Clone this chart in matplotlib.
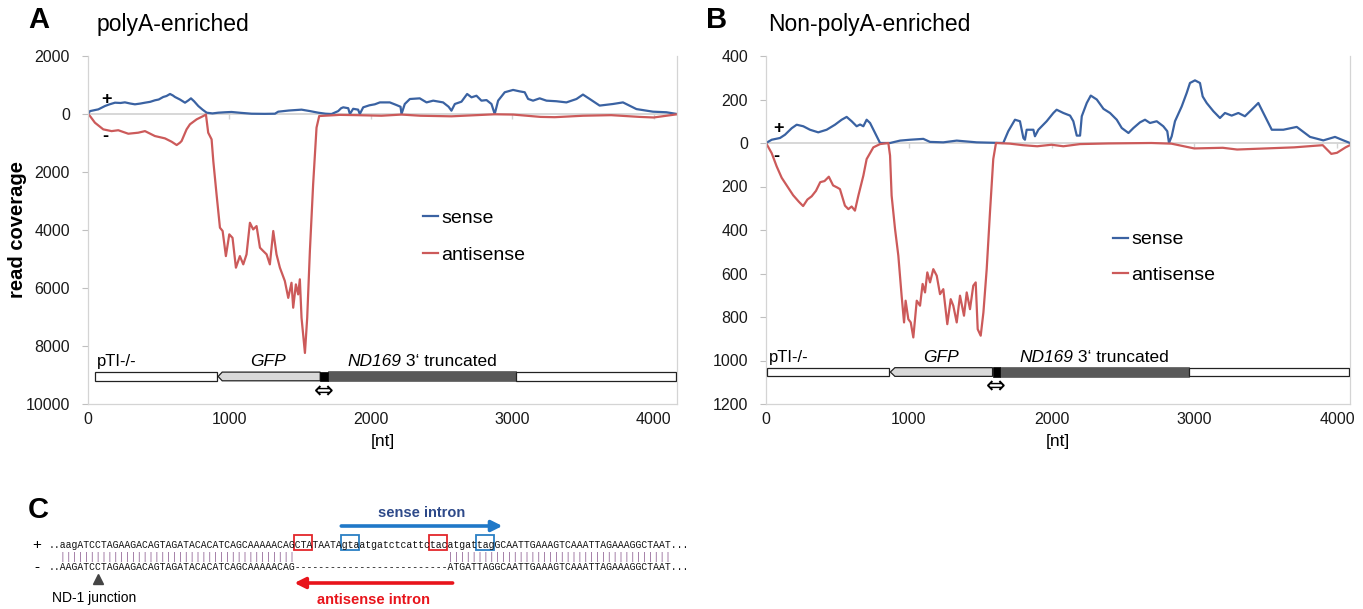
import matplotlib

matplotlib.use("Agg")
import matplotlib.pyplot as plt
from matplotlib.patches import Polygon, Rectangle

plt.rcParams["font.family"] = ["Liberation Sans", "DejaVu Sans"]

W, H = 1363, 609
BLUE = "#3a62a2"
RED = "#cc5a5a"
GRID = "#d4d4d4"

# ---------------- panel A: polyA-enriched (read coverage, nt) ----------------
a_sense_x = [0, 14, 73, 120, 150, 191, 230, 261, 300, 332, 370, 403, 440, 473, 500, 532, 555,
             580, 600, 615, 650, 686, 710, 728, 750, 780, 810, 839, 880, 921, 970, 1015, 1080,
             1157, 1250, 1322, 1345, 1420, 1510, 1570, 1628, 1680, 1722, 1769, 1790, 1805, 1840,
             1852, 1875, 1910, 1922, 1946, 1990, 2028, 2064, 2134, 2181, 2210, 2217, 2240, 2276,
             2346, 2394, 2441, 2511, 2550, 2570, 2594, 2641, 2681, 2712, 2747, 2782, 2818, 2853,
             2876, 2900, 2947, 3006, 3053, 3088, 3112, 3147, 3194, 3242, 3312, 3383, 3454, 3500,
             3548, 3618, 3712, 3783, 3878, 3995, 4090, 4165]
a_sense_y = [0, 100, 160, 275, 330, 390, 380, 402, 360, 334, 360, 390, 420, 472, 500, 587, 620,
             690, 640, 587, 500, 390, 470, 540, 440, 275, 150, 45, 20, 45, 60, 70, 40,
             10, 5, 10, 80, 120, 150, 100, 45, 10, 0, 100, 200, 230, 200,
             0, 180, 150, 0, 230, 300, 334, 400, 400, 310, 250, 0, 345, 517,
             540, 400, 460, 400, 250, 115, 345, 425, 690, 575, 630, 460, 480, 345,
             0, 460, 750, 830, 780, 750, 520, 460, 540, 460, 440, 400, 517, 670,
             517, 290, 345, 400, 170, 80, 60, 0]
a_anti_x = [0, 14, 49, 108, 167, 214, 285, 355, 403, 473, 544, 591, 627, 650, 662, 697, 721, 768,
            815, 834, 850, 874, 886, 909, 933, 952, 975, 999, 1022, 1046, 1074, 1098, 1121, 1145,
            1168, 1192, 1216, 1239, 1263, 1286, 1310, 1333, 1357, 1392, 1416, 1439, 1451, 1470,
            1486, 1498, 1510, 1534, 1550, 1569, 1592, 1616, 1635, 1710, 1781, 1900, 2075, 2217,
            2350, 2570, 2876, 3006, 3200, 3300, 3500, 3700, 3900, 4000, 4165]
a_anti_y = [0, -70, -300, -530, -590, -560, -680, -645, -590, -760, -840, -955, -1070, -990,
            -930, -530, -355, -185, -70, -20, -645, -875, -1620, -2770, -3920, -4035, -4900,
            -4150, -4270, -5300, -4900, -5185, -4840, -3750, -3980, -3865, -4610, -4725, -4840,
            -5185, -4035, -4840, -5300, -5760, -6340, -5820, -6680, -5875, -6220, -5700, -7030,
            -8240, -7030, -4725, -2425, -470, -70, -50, -30, -40, -60, -20, -60, -80, -10, -20,
            -100, -110, -60, -40, -100, -120, -10]
a_yticks = [2000, 0, -2000, -4000, -6000, -8000, -10000]
a_xmax = 4165

# ---------------- panel B: non-polyA-enriched ----------------
b_sense_x = [0, 40, 98, 133, 180, 215, 261, 308, 366, 425, 483, 530, 565, 600, 635, 659, 682,
             705, 729, 764, 799, 869, 939, 1009, 1102, 1149, 1242, 1336, 1476, 1662, 1697, 1744,
             1779, 1803, 1814, 1826, 1873, 1884, 1908, 1966, 2013, 2036, 2083, 2130, 2153, 2177,
             2200, 2212, 2247, 2275, 2317, 2364, 2410, 2457, 2492, 2539, 2574, 2620, 2655, 2690,
             2737, 2783, 2811, 2823, 2842, 2865, 2912, 2947, 2970, 3005, 3040, 3059, 3087, 3134,
             3180, 3215, 3262, 3309, 3355, 3402, 3449, 3484, 3543, 3624, 3718, 3811, 3904, 3986,
             4045, 4091]
b_sense_y = [0, 15, 23, 38, 68, 84, 77, 61, 49, 61, 84, 107, 120, 100, 77, 85, 77,
             107, 92, 46, 0, 0, 11, 15, 19, 5, 3, 11, 3, 0, 54, 107,
             100, 23, 15, 61, 61, 31, 61, 100, 138, 153, 138, 126, 100, 34,
             34, 123, 184, 218, 200, 157, 138, 107, 69, 46, 69, 95, 107, 92,
             100, 77, 54, 0, 31, 100, 168, 230, 276, 288, 276, 214, 184, 146,
             115, 138, 126, 138, 123, 153, 184, 138, 61, 61, 74, 28, 12, 28,
             12, 0]
b_anti_x = [0, 40, 75, 110, 150, 190, 230, 260, 290, 320, 350, 380, 410, 440, 470, 500, 518,
            553, 577, 600, 623, 647, 682, 705, 752, 799, 857, 869, 880, 904, 927, 950, 967, 978,
            997, 1014, 1032, 1056, 1079, 1097, 1114, 1130, 1149, 1172, 1196, 1219, 1242, 1270,
            1294, 1312, 1336, 1359, 1387, 1406, 1429, 1452, 1469, 1483, 1504, 1523, 1546, 1569,
            1592, 1611, 1709, 1800, 1900, 2000, 2083, 2200, 2400, 2700, 2840, 3000, 3200, 3300,
            3500, 3700, 3900, 3960, 4000, 4060, 4091]
b_anti_y = [0, -47, -108, -160, -200, -240, -270, -290, -260, -245, -220, -180, -175, -155,
            -195, -205, -212, -288, -304, -292, -311, -242, -150, -74, -20, -5, 0, -58, -242,
            -396, -518, -702, -825, -725, -810, -825, -894, -725, -748, -648, -687, -595, -641,
            -580, -610, -695, -672, -833, -718, -748, -825, -702, -794, -687, -764, -656, -641,
            -856, -886, -779, -580, -319, -74, 0, -3, -10, -15, -8, -15, -5, -2, 0, -3, -25,
            -22, -30, -25, -20, -10, -50, -45, -20, -10]
b_yticks = [400, 200, 0, -200, -400, -600, -800, -1000, -1200]
b_xmax = 4091

x_ticks = [0, 1000, 2000, 3000, 4000]

# gene map (nt): pTI box, GFP arrow (tip, body start, end), junction marker, ND169, vector
a_map = {"pti": (49, 915), "gfp": (920, 949, 1642), "mark": (1642, 1695),
         "nd": (1695, 3030), "vec": (3030, 4165)}
b_map = {"pti": (6, 865), "gfp": (871, 903, 1587), "mark": (1587, 1636),
         "nd": (1636, 2963), "vec": (2963, 4091)}

# ---------------- panel C: alignment ----------------
top_seq = ("aagATCCTAGAAGACAGTAGATACACATCAGCAAAAACAG" "CTATAATAgtaatgatctcattctac"
           "atgattagGCAATTGAAAGTCAAATTAGAAAGGCTAAT")
bot_seq = ("AAGATCCTAGAAGACAGTAGATACACATCAGCAAAAACAG" + "-" * 26 +
           "ATGATTAGGCAATTGAAAGTCAAATTAGAAAGGCTAAT")
red_boxes = [40, 63]   # start index of 3-nt boxes
blue_boxes = [48, 71]
sense_intron = (48, 75.5)
antisense_intron = (67, 40)
junction_idx = 6


def draw_map(ax, m, yc, hh, ytxt, yarr):
    kw = dict(linewidth=0.9, edgecolor="#222222", zorder=3)
    ax.add_patch(Rectangle((m["pti"][0], yc - hh), m["pti"][1] - m["pti"][0], 2 * hh,
                           facecolor="white", **kw))
    tip, s, e = m["gfp"]
    ax.add_patch(Polygon([(e, yc + hh), (s, yc + hh), (tip, yc), (s, yc - hh), (e, yc - hh)],
                         closed=True, facecolor="#d9d9d9", **kw))
    ax.add_patch(Rectangle((m["nd"][0], yc - hh * 1.15), m["nd"][1] - m["nd"][0], 2.3 * hh,
                           facecolor="#595959", edgecolor="#595959", linewidth=0.5, zorder=3))
    ax.add_patch(Rectangle((m["mark"][0], yc - hh * 1.1), m["mark"][1] - m["mark"][0], 2.2 * hh,
                           facecolor="black", edgecolor="black", linewidth=0.5, zorder=4))
    ax.add_patch(Rectangle((m["vec"][0], yc - hh), m["vec"][1] - m["vec"][0] - 8, 2 * hh,
                           facecolor="white", **kw))
    ax.text(m["pti"][0] + 15, ytxt, "pTI-/-", fontsize=12, va="baseline", ha="left")
    ax.text((s + e) / 2 - 20, ytxt, "GFP", fontsize=12.5, style="italic", va="baseline",
            ha="center")
    ax.text(m["nd"][0] + 140, ytxt, "ND169", fontsize=12.5, style="italic", va="baseline",
            ha="left")
    ax.annotate(" 3\u2018 truncated", xy=(1, 0), xycoords=ax.texts[-1], fontsize=12.5,
                va="bottom", ha="left")
    ax.text(sum(m["mark"]) / 2, yarr, "\u21d4", fontsize=17, family="DejaVu Sans",
            ha="center", va="center")


def draw_panel(ax, sx, sy, ax_, ay, yticks, xmax, m, map_y, leg_xy, plus_xy, minus_xy, spacing):
    ymax, ymin = yticks[0], yticks[-1]
    span = ymax - ymin
    ax.set_xlim(0, xmax)
    ax.set_ylim(ymin, ymax)
    ax.axhline(0, color=GRID, linewidth=1.3, zorder=1)
    ax.vlines(x_ticks[1:], 0, -span * 5 / 348, color=GRID, linewidth=1.0, zorder=1)
    ax.plot(sx, sy, color=BLUE, linewidth=1.6, label="sense", zorder=2)
    ax.plot(ax_, ay, color=RED, linewidth=1.6, label="antisense", zorder=2)
    draw_map(ax, m, *map_y)
    ax.text(*plus_xy, "+", fontsize=13, fontweight="bold", ha="center", va="center")
    ax.text(*minus_xy, "-", fontsize=13, fontweight="bold", ha="center", va="center")

    ax.set_yticks(yticks)
    ax.set_yticklabels([str(abs(v)) for v in yticks])
    ax.set_xticks(x_ticks)
    ax.set_xticklabels([str(v) for v in x_ticks])
    ax.tick_params(axis="y", length=4, width=0.8, color="#bfbfbf", pad=9, labelsize=11.5,
                   labelcolor="#1a1a1a")
    ax.tick_params(axis="x", length=0, pad=6, labelsize=11.5, labelcolor="#1a1a1a")
    ax.set_xlabel("[nt]", fontsize=12.5, labelpad=5)
    for side in ("left", "right", "bottom"):
        ax.spines[side].set_color(GRID)
        ax.spines[side].set_linewidth(0.9)
    ax.spines["top"].set_visible(False)
    ax.set_facecolor("none")
    ax.legend(loc="center left", bbox_to_anchor=leg_xy, frameon=False, fontsize=14,
              handlelength=0.8, handletextpad=0.15, labelspacing=spacing, borderpad=0,
              borderaxespad=0)


fig = plt.figure(figsize=(W / 100, H / 100), dpi=100)

ax_a = fig.add_axes([88 / W, 1 - 404 / H, 589 / W, 348 / H])
draw_panel(ax_a, a_sense_x, a_sense_y, a_anti_x, a_anti_y, a_yticks, a_xmax, a_map,
           (-9050, 150, -8694, -9557), (0.568, 0.482), (132, 517), (120, -793), 1.0)

ax_b = fig.add_axes([766 / W, 1 - 404 / H, 584 / W, 348 / H])
draw_panel(ax_b, b_sense_x, b_sense_y, b_anti_x, b_anti_y, b_yticks, b_xmax, b_map,
           (-1053, 20, -1006, -1121), (0.594, 0.422), (86, 68), (70, -63), 0.9)

fig.text(18 / W, 1 - 230 / H, "read coverage", rotation=90, fontsize=14.5, fontweight="bold",
         ha="center", va="center")

# panel letters and titles, plus panel C, in pixel coordinates
ov = fig.add_axes([0, 0, 1, 1], zorder=-1)
ov.set_xlim(0, W)
ov.set_ylim(H, 0)
ov.axis("off")
ov.text(39, 20, "A", fontsize=21, fontweight="bold", ha="center", va="center")
ov.text(97, 24, "polyA-enriched", fontsize=16.5, ha="left", va="center")
ov.text(717, 20, "B", fontsize=21, fontweight="bold", ha="center", va="center")
ov.text(768, 24, "Non-polyA-enriched", fontsize=16.5, ha="left", va="center")
ov.text(38, 510, "C", fontsize=21, fontweight="bold", ha="center", va="center")

x0, cw = 60.0, 5.86
mono = dict(family="Liberation Mono", fontsize=7.03, va="center", ha="left")
y_top, y_bar, y_bot = 545, 556.5, 567.5
bars = "".join("|" if a.upper() == b else " " for a, b in zip(top_seq, bot_seq))
ov.text(x0 - 2 * cw, y_top, ".." + top_seq + "...", color="#111111", **mono)
ov.text(x0, y_bar, bars, color="#8a5a8e", **mono)
ov.text(x0 - 2 * cw, y_bot, ".." + bot_seq + "...", color="#111111", **mono)
ov.text(37, y_top, "+", fontsize=11, ha="center", va="center")
ov.text(37, y_bot, "-", fontsize=11, ha="center", va="center")

for idx in red_boxes:
    ov.add_patch(Rectangle((x0 + idx * cw - 0.5, 534.5), 3 * cw + 1, 15.5, fill=False,
                           edgecolor="#e3262b", linewidth=1.3))
for idx in blue_boxes:
    ov.add_patch(Rectangle((x0 + idx * cw - 0.5, 534.5), 3 * cw + 1, 15.5, fill=False,
                           edgecolor="#2a7fc4", linewidth=1.3))

ov.annotate("", xy=(x0 + sense_intron[1] * cw, 526), xytext=(x0 + sense_intron[0] * cw, 526),
            arrowprops=dict(arrowstyle="-|>", color="#1f78c8", lw=2.6, mutation_scale=16,
                            shrinkA=0, shrinkB=0))
ov.text(x0 + sum(sense_intron) / 2 * cw, 513, "sense intron", fontsize=10.5, fontweight="bold",
        color="#2e4a8a", ha="center", va="center")
ov.annotate("", xy=(x0 + antisense_intron[1] * cw, 583),
            xytext=(x0 + antisense_intron[0] * cw, 583),
            arrowprops=dict(arrowstyle="-|>", color="#e8141b", lw=2.6, mutation_scale=16,
                            shrinkA=0, shrinkB=0))
ov.text(x0 + sum(antisense_intron) / 2 * cw, 600, "antisense intron", fontsize=10.5,
        fontweight="bold", color="#e8141b", ha="center", va="center")

ov.plot(x0 + (junction_idx + 0.5) * cw, 579, marker="^", markersize=7, color="#444444")
ov.text(52, 598, "ND-1 junction", fontsize=10, ha="left", va="center")

fig.savefig("out.png", dpi=100)
